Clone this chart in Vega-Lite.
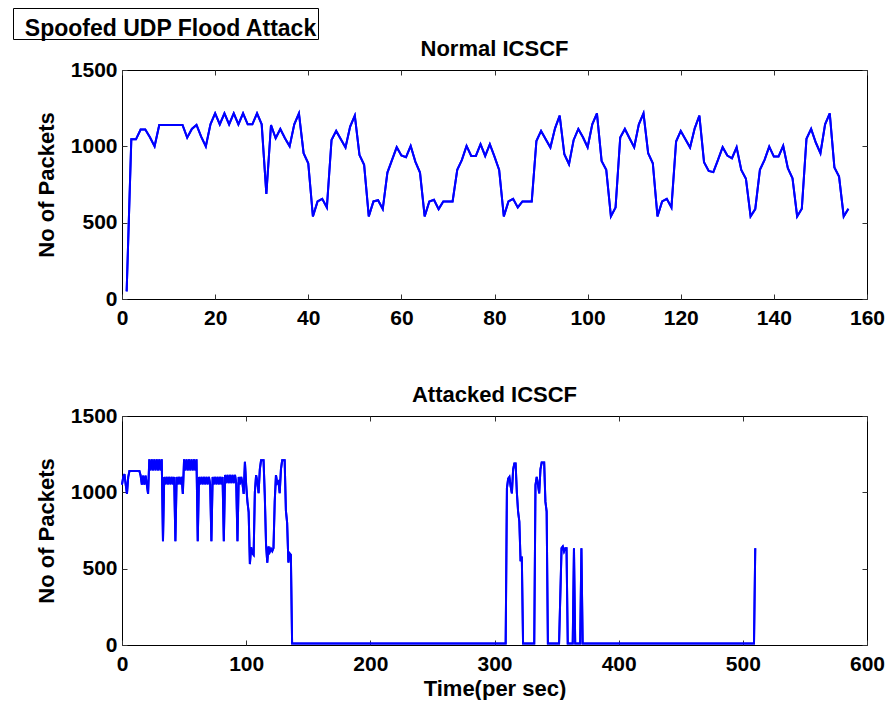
{
  "$schema": "https://vega.github.io/schema/vega-lite/v6.json",
  "background": "white",
  "padding": {"left": 12, "top": 7, "right": 5, "bottom": 0},
  "config": {
    "font": "Liberation Sans",
    "view": {"stroke": "#000000", "strokeWidth": 1},
    "axis": {
      "grid": false,
      "domain": false,
      "format": "d",
      "labelFont": "Liberation Sans",
      "labelFontWeight": "bold",
      "labelFontSize": 21,
      "labelColor": "#000000",
      "labelFlush": false,
      "labelOverlap": false,
      "titleFont": "Liberation Sans",
      "titleFontWeight": "bold",
      "titleFontSize": 22,
      "titleColor": "#000000",
      "tickColor": "#333333",
      "tickWidth": 1,
      "tickSize": -5,
      "minExtent": 0
    },
    "title": {"font": "Liberation Sans", "fontWeight": "bold", "fontSize": 22, "color": "#000000", "baseline": "alphabetic", "offset": -2, "frame": "group"}
  },
  "datasets": {
    "box": [{"label": "Spoofed UDP Flood Attack"}],
    "normal": [
      {"t": 1, "packets": 50}, {"t": 2, "packets": 1046}, {"t": 3, "packets": 1046}, {"t": 4, "packets": 1110}, {"t": 5, "packets": 1110},
      {"t": 6, "packets": 1060}, {"t": 7, "packets": 1000}, {"t": 8, "packets": 1140}, {"t": 9, "packets": 1140}, {"t": 10, "packets": 1140},
      {"t": 11, "packets": 1140}, {"t": 12, "packets": 1140}, {"t": 13, "packets": 1140}, {"t": 14, "packets": 1057}, {"t": 15, "packets": 1114},
      {"t": 16, "packets": 1140}, {"t": 17, "packets": 1064}, {"t": 18, "packets": 1000}, {"t": 19, "packets": 1144}, {"t": 20, "packets": 1216},
      {"t": 21, "packets": 1144}, {"t": 22, "packets": 1216}, {"t": 23, "packets": 1144}, {"t": 24, "packets": 1216}, {"t": 25, "packets": 1144},
      {"t": 26, "packets": 1216}, {"t": 27, "packets": 1144}, {"t": 28, "packets": 1144}, {"t": 29, "packets": 1216}, {"t": 30, "packets": 1144},
      {"t": 31, "packets": 689}, {"t": 32, "packets": 1140}, {"t": 33, "packets": 1053}, {"t": 34, "packets": 1114}, {"t": 35, "packets": 1053},
      {"t": 36, "packets": 1000}, {"t": 37, "packets": 1144}, {"t": 38, "packets": 1216}, {"t": 39, "packets": 955}, {"t": 40, "packets": 889},
      {"t": 41, "packets": 541}, {"t": 42, "packets": 639}, {"t": 43, "packets": 656}, {"t": 44, "packets": 600}, {"t": 45, "packets": 1042},
      {"t": 46, "packets": 1101}, {"t": 47, "packets": 1046}, {"t": 48, "packets": 992}, {"t": 49, "packets": 1129}, {"t": 50, "packets": 1201},
      {"t": 51, "packets": 944}, {"t": 52, "packets": 879}, {"t": 53, "packets": 541}, {"t": 54, "packets": 639}, {"t": 55, "packets": 647},
      {"t": 56, "packets": 589}, {"t": 57, "packets": 828}, {"t": 58, "packets": 911}, {"t": 59, "packets": 994}, {"t": 60, "packets": 940},
      {"t": 61, "packets": 929}, {"t": 62, "packets": 1003}, {"t": 63, "packets": 900}, {"t": 64, "packets": 828}, {"t": 65, "packets": 541},
      {"t": 66, "packets": 639}, {"t": 67, "packets": 650}, {"t": 68, "packets": 589}, {"t": 69, "packets": 639}, {"t": 70, "packets": 639},
      {"t": 71, "packets": 639}, {"t": 72, "packets": 846}, {"t": 73, "packets": 911}, {"t": 74, "packets": 1003}, {"t": 75, "packets": 937},
      {"t": 76, "packets": 937}, {"t": 77, "packets": 1014}, {"t": 78, "packets": 937}, {"t": 79, "packets": 1014}, {"t": 80, "packets": 933},
      {"t": 81, "packets": 846}, {"t": 82, "packets": 541}, {"t": 83, "packets": 639}, {"t": 84, "packets": 656}, {"t": 85, "packets": 600},
      {"t": 86, "packets": 639}, {"t": 87, "packets": 639}, {"t": 88, "packets": 639}, {"t": 89, "packets": 1035}, {"t": 90, "packets": 1101},
      {"t": 91, "packets": 1046}, {"t": 92, "packets": 992}, {"t": 93, "packets": 1118}, {"t": 94, "packets": 1201}, {"t": 95, "packets": 948},
      {"t": 96, "packets": 883}, {"t": 97, "packets": 1042}, {"t": 98, "packets": 1114}, {"t": 99, "packets": 1059}, {"t": 100, "packets": 994},
      {"t": 101, "packets": 1144}, {"t": 102, "packets": 1216}, {"t": 103, "packets": 905}, {"t": 104, "packets": 846}, {"t": 105, "packets": 541},
      {"t": 106, "packets": 600}, {"t": 107, "packets": 1057}, {"t": 108, "packets": 1114}, {"t": 109, "packets": 1053}, {"t": 110, "packets": 994},
      {"t": 111, "packets": 1144}, {"t": 112, "packets": 1216}, {"t": 113, "packets": 955}, {"t": 114, "packets": 889}, {"t": 115, "packets": 541},
      {"t": 116, "packets": 639}, {"t": 117, "packets": 656}, {"t": 118, "packets": 600}, {"t": 119, "packets": 1031}, {"t": 120, "packets": 1101},
      {"t": 121, "packets": 1046}, {"t": 122, "packets": 992}, {"t": 123, "packets": 1118}, {"t": 124, "packets": 1201}, {"t": 125, "packets": 896},
      {"t": 126, "packets": 839}, {"t": 127, "packets": 831}, {"t": 128, "packets": 911}, {"t": 129, "packets": 994}, {"t": 130, "packets": 940},
      {"t": 131, "packets": 922}, {"t": 132, "packets": 994}, {"t": 133, "packets": 846}, {"t": 134, "packets": 787}, {"t": 135, "packets": 541},
      {"t": 136, "packets": 589}, {"t": 137, "packets": 846}, {"t": 138, "packets": 911}, {"t": 139, "packets": 998}, {"t": 140, "packets": 933},
      {"t": 141, "packets": 933}, {"t": 142, "packets": 1003}, {"t": 143, "packets": 857}, {"t": 144, "packets": 791}, {"t": 145, "packets": 541},
      {"t": 146, "packets": 591}, {"t": 147, "packets": 1049}, {"t": 148, "packets": 1114}, {"t": 149, "packets": 1025}, {"t": 150, "packets": 955},
      {"t": 151, "packets": 1144}, {"t": 152, "packets": 1216}, {"t": 153, "packets": 861}, {"t": 154, "packets": 802}, {"t": 155, "packets": 541},
      {"t": 156, "packets": 591}
    ],
    "attacked": [
      {"t": 0, "packets": 1050}, {"t": 1, "packets": 1100}, {"t": 2, "packets": 1120}, {"t": 3, "packets": 1050}, {"t": 4, "packets": 990},
      {"t": 5, "packets": 1100}, {"t": 6, "packets": 1140}, {"t": 7, "packets": 1140}, {"t": 8, "packets": 1140}, {"t": 9, "packets": 1140},
      {"t": 10, "packets": 1140}, {"t": 11, "packets": 1140}, {"t": 12, "packets": 1140}, {"t": 13, "packets": 1140}, {"t": 14, "packets": 1140},
      {"t": 15, "packets": 1110}, {"t": 16, "packets": 1050}, {"t": 17, "packets": 1110}, {"t": 18, "packets": 1050}, {"t": 19, "packets": 1110},
      {"t": 20, "packets": 1050}, {"t": 21, "packets": 990}, {"t": 22, "packets": 1216}, {"t": 23, "packets": 1144}, {"t": 24, "packets": 1216},
      {"t": 25, "packets": 1144}, {"t": 26, "packets": 1216}, {"t": 27, "packets": 1144}, {"t": 28, "packets": 1216}, {"t": 29, "packets": 1144},
      {"t": 30, "packets": 1216}, {"t": 31, "packets": 1144}, {"t": 32, "packets": 1216}, {"t": 33, "packets": 680}, {"t": 34, "packets": 1101},
      {"t": 35, "packets": 1053}, {"t": 36, "packets": 1101}, {"t": 37, "packets": 1053}, {"t": 38, "packets": 1101}, {"t": 39, "packets": 1053},
      {"t": 40, "packets": 1101}, {"t": 41, "packets": 1053}, {"t": 42, "packets": 1101}, {"t": 43, "packets": 680}, {"t": 44, "packets": 1101},
      {"t": 45, "packets": 1053}, {"t": 46, "packets": 1101}, {"t": 47, "packets": 1053}, {"t": 48, "packets": 1101}, {"t": 49, "packets": 990},
      {"t": 50, "packets": 1216}, {"t": 51, "packets": 1144}, {"t": 52, "packets": 1216}, {"t": 53, "packets": 1144}, {"t": 54, "packets": 1216},
      {"t": 55, "packets": 1144}, {"t": 56, "packets": 1216}, {"t": 57, "packets": 1144}, {"t": 58, "packets": 1216}, {"t": 59, "packets": 1144},
      {"t": 60, "packets": 1216}, {"t": 61, "packets": 680}, {"t": 62, "packets": 1101}, {"t": 63, "packets": 1053}, {"t": 64, "packets": 1101},
      {"t": 65, "packets": 1053}, {"t": 66, "packets": 1101}, {"t": 67, "packets": 1053}, {"t": 68, "packets": 1101}, {"t": 69, "packets": 1053},
      {"t": 70, "packets": 1101}, {"t": 71, "packets": 1053}, {"t": 72, "packets": 680}, {"t": 73, "packets": 1101}, {"t": 74, "packets": 1053},
      {"t": 75, "packets": 1101}, {"t": 76, "packets": 1053}, {"t": 77, "packets": 1101}, {"t": 78, "packets": 1053}, {"t": 79, "packets": 1101},
      {"t": 80, "packets": 1053}, {"t": 81, "packets": 1101}, {"t": 82, "packets": 680}, {"t": 83, "packets": 1114}, {"t": 84, "packets": 1060},
      {"t": 85, "packets": 1114}, {"t": 86, "packets": 1060}, {"t": 87, "packets": 1114}, {"t": 88, "packets": 1060}, {"t": 89, "packets": 1114},
      {"t": 90, "packets": 1060}, {"t": 91, "packets": 1114}, {"t": 92, "packets": 1060}, {"t": 93, "packets": 680}, {"t": 94, "packets": 1101},
      {"t": 95, "packets": 1053}, {"t": 96, "packets": 1101}, {"t": 97, "packets": 1060}, {"t": 98, "packets": 990}, {"t": 99, "packets": 1200},
      {"t": 100, "packets": 1050}, {"t": 101, "packets": 940}, {"t": 102, "packets": 870}, {"t": 103, "packets": 530}, {"t": 104, "packets": 640},
      {"t": 105, "packets": 600}, {"t": 106, "packets": 590}, {"t": 107, "packets": 1000}, {"t": 108, "packets": 1113}, {"t": 109, "packets": 1070},
      {"t": 110, "packets": 995}, {"t": 111, "packets": 1150}, {"t": 112, "packets": 1210}, {"t": 113, "packets": 1210}, {"t": 114, "packets": 1210},
      {"t": 115, "packets": 980}, {"t": 116, "packets": 660}, {"t": 117, "packets": 540}, {"t": 118, "packets": 645}, {"t": 119, "packets": 610},
      {"t": 120, "packets": 630}, {"t": 121, "packets": 615}, {"t": 122, "packets": 635}, {"t": 123, "packets": 940}, {"t": 124, "packets": 1113},
      {"t": 125, "packets": 1060}, {"t": 126, "packets": 1070}, {"t": 127, "packets": 995}, {"t": 128, "packets": 1150}, {"t": 129, "packets": 1210},
      {"t": 130, "packets": 1210}, {"t": 131, "packets": 1210}, {"t": 132, "packets": 880}, {"t": 133, "packets": 800}, {"t": 134, "packets": 540},
      {"t": 135, "packets": 600}, {"t": 136, "packets": 590}, {"t": 137, "packets": 10}, {"t": 309, "packets": 10}, {"t": 310, "packets": 1026},
      {"t": 311, "packets": 1090}, {"t": 312, "packets": 1101}, {"t": 313, "packets": 1040}, {"t": 314, "packets": 993}, {"t": 315, "packets": 1150},
      {"t": 316, "packets": 1189}, {"t": 317, "packets": 1189}, {"t": 318, "packets": 1000}, {"t": 319, "packets": 874}, {"t": 320, "packets": 809},
      {"t": 321, "packets": 548}, {"t": 322, "packets": 580}, {"t": 323, "packets": 10}, {"t": 332, "packets": 10}, {"t": 333, "packets": 1048},
      {"t": 334, "packets": 1101}, {"t": 335, "packets": 1050}, {"t": 336, "packets": 993}, {"t": 337, "packets": 1150}, {"t": 338, "packets": 1195},
      {"t": 339, "packets": 1195}, {"t": 340, "packets": 1195}, {"t": 341, "packets": 939}, {"t": 342, "packets": 874}, {"t": 343, "packets": 10},
      {"t": 352, "packets": 10}, {"t": 354, "packets": 634}, {"t": 355, "packets": 645}, {"t": 356, "packets": 613}, {"t": 357, "packets": 634},
      {"t": 358, "packets": 634}, {"t": 359, "packets": 10}, {"t": 363, "packets": 10}, {"t": 364, "packets": 634}, {"t": 365, "packets": 10},
      {"t": 369, "packets": 10}, {"t": 370, "packets": 634}, {"t": 371, "packets": 10}, {"t": 509, "packets": 10}, {"t": 510, "packets": 634}
    ]
  },
  "spacing": -5,
  "vconcat": [
    {
      "width": 305,
      "height": 31,
      "data": {"name": "box"},
      "mark": {"type": "text", "font": "Liberation Sans", "fontWeight": "bold", "fontSize": 23, "color": "#000000", "baseline": "alphabetic", "dx": 5, "dy": 12.5},
      "encoding": {
        "text": {"field": "label", "type": "nominal"},
        "x": {"field": "label", "type": "nominal", "axis": null},
        "y": {"field": "label", "type": "nominal", "axis": null}
      }
    },
    {
      "spacing": 0,
      "hconcat": [
        {
          "width": 21.5,
          "height": 1,
          "data": {"values": []},
          "mark": "point",
          "view": {"stroke": null}
        },
        {
          "spacing": 54,
          "vconcat": [
            {
              "width": 745,
              "height": 229,
              "title": "Normal ICSCF",
              "data": {"name": "normal"},
              "layer": [
                {
                  "mark": {"type": "line", "color": "#0000ff", "strokeWidth": 2},
                  "encoding": {
                    "x": {"field": "t", "type": "quantitative", "scale": {"domain": [0, 160], "nice": false},
                          "axis": {"values": [0, 20, 40, 60, 80, 100, 120, 140, 160], "title": null, "labelPadding": 13}},
                    "y": {"field": "packets", "type": "quantitative", "scale": {"domain": [0, 1500], "nice": false},
                          "axis": {"values": [0, 500, 1000, 1500], "title": "No of Packets", "titlePadding": 11.5, "labelPadding": 10}}
                  }
                },
                {
                  "mark": {"type": "line", "color": "#0000ff", "strokeWidth": 2},
                  "encoding": {
                    "x": {"field": "t", "type": "quantitative", "axis": {"orient": "top", "values": [0, 20, 40, 60, 80, 100, 120, 140, 160], "labels": false, "title": null}},
                    "y": {"field": "packets", "type": "quantitative", "axis": {"orient": "right", "values": [0, 500, 1000, 1500], "labels": false, "title": null}}
                  }
                }
              ],
              "resolve": {"axis": {"x": "independent", "y": "independent"}}
            },
            {
              "width": 745,
              "height": 229,
              "title": "Attacked ICSCF",
              "data": {"name": "attacked"},
              "layer": [
                {
                  "mark": {"type": "line", "color": "#0000ff", "strokeWidth": 2},
                  "encoding": {
                    "x": {"field": "t", "type": "quantitative", "scale": {"domain": [0, 600], "nice": false},
                          "axis": {"values": [0, 100, 200, 300, 400, 500, 600], "title": "Time(per sec)", "titlePadding": 4, "labelPadding": 13}},
                    "y": {"field": "packets", "type": "quantitative", "scale": {"domain": [0, 1500], "nice": false},
                          "axis": {"values": [0, 500, 1000, 1500], "title": "No of Packets", "titlePadding": 11.5, "labelPadding": 10}}
                  }
                },
                {
                  "mark": {"type": "line", "color": "#0000ff", "strokeWidth": 2},
                  "encoding": {
                    "x": {"field": "t", "type": "quantitative", "axis": {"orient": "top", "values": [0, 100, 200, 300, 400, 500, 600], "labels": false, "title": null}},
                    "y": {"field": "packets", "type": "quantitative", "axis": {"orient": "right", "values": [0, 500, 1000, 1500], "labels": false, "title": null}}
                  }
                }
              ],
              "resolve": {"axis": {"x": "independent", "y": "independent"}}
            }
          ]
        }
      ]
    }
  ]
}
